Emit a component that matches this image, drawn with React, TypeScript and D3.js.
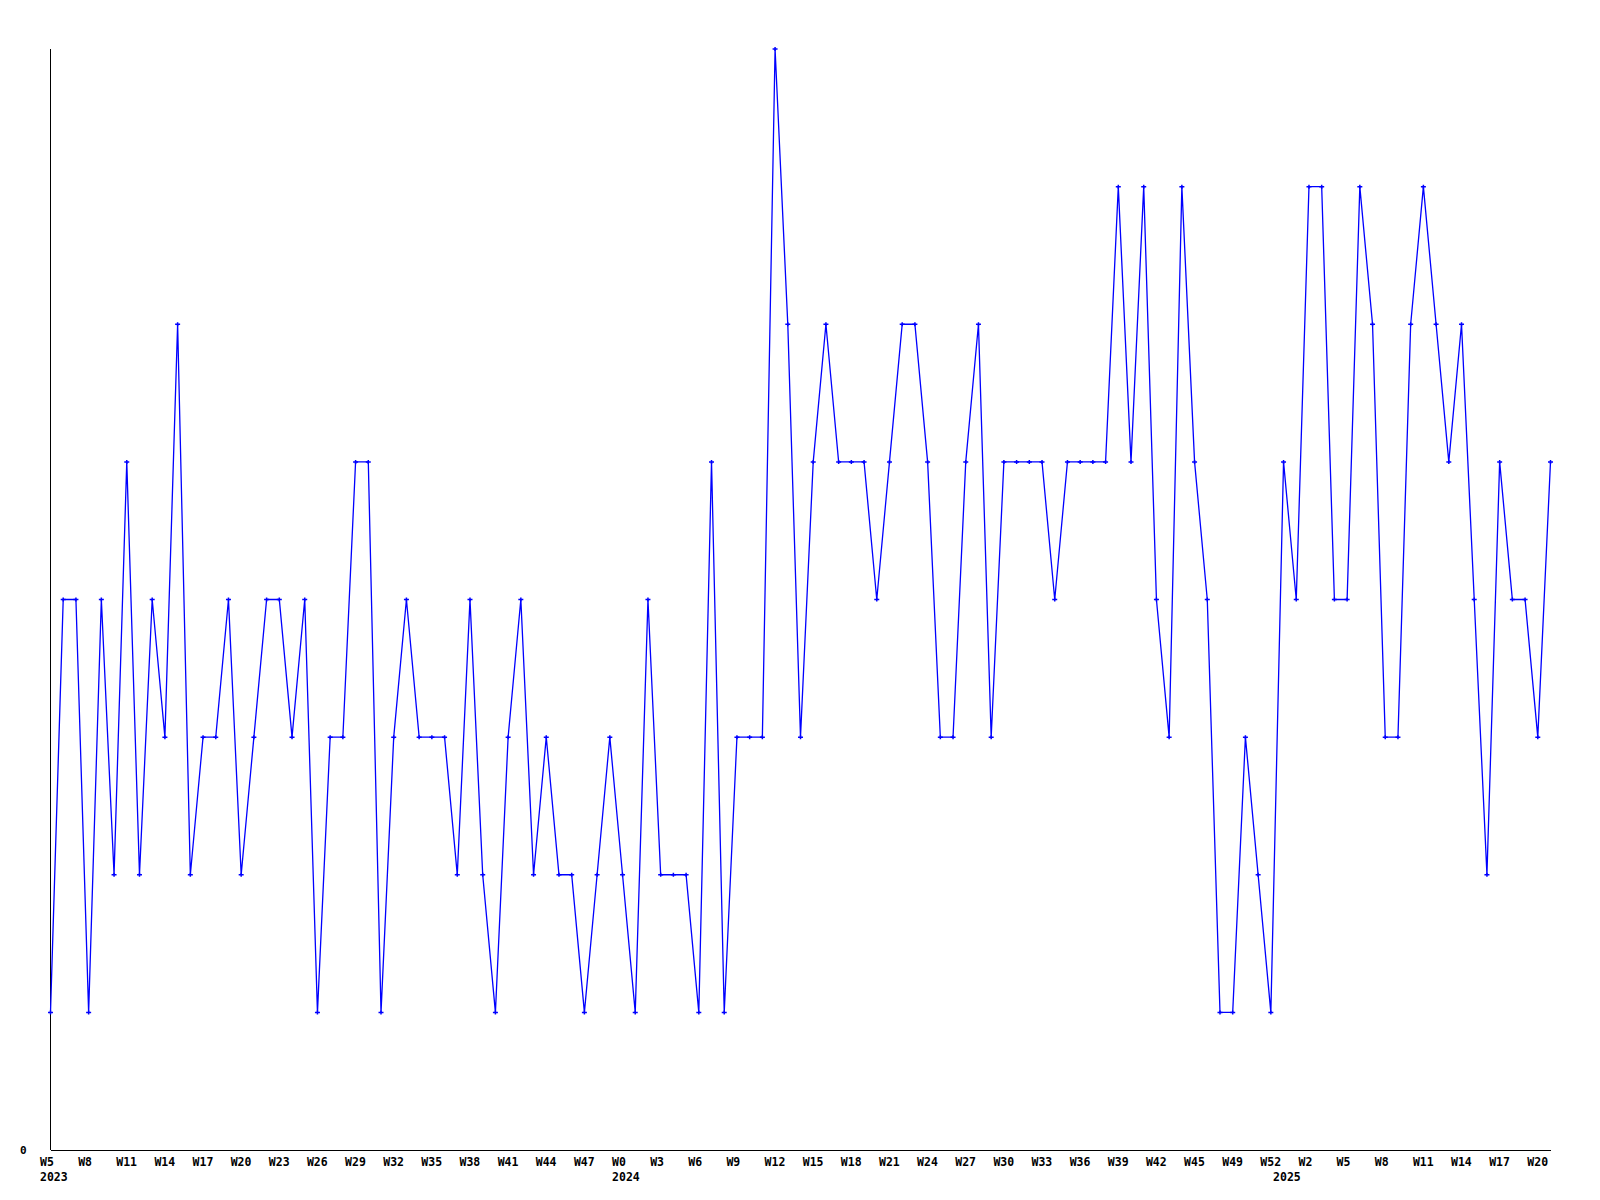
import React from "react";
import * as d3 from "d3";

const values: number[] = [
  1, 4, 4, 1, 4, 2, 5, 2, 4, 3, 6, 2, 3, 3, 4, 2, 3, 4, 4, 3,
  4, 1, 3, 3, 5, 5, 1, 3, 4, 3, 3, 3, 2, 4, 2, 1, 3, 4, 2, 3,
  2, 2, 1, 2, 3, 2, 1, 4, 2, 2, 2, 1, 5, 1, 3, 3, 3, 8, 6, 3,
  5, 6, 5, 5, 5, 4, 5, 6, 6, 5, 3, 3, 5, 6, 3, 5, 5, 5, 5, 4,
  5, 5, 5, 5, 7, 5, 7, 4, 3, 7, 5, 4, 1, 1, 3, 2, 1, 5, 4, 7,
  7, 4, 4, 7, 6, 3, 3, 6, 7, 6, 5, 6, 4, 2, 5, 4, 4, 3, 5,
];

const weekLabels: string[] = [
  "W5", "W8", "W11", "W14", "W17", "W20", "W23", "W26", "W29", "W32",
  "W35", "W38", "W41", "W44", "W47",
  "W0", "W3", "W6", "W9", "W12", "W15", "W18", "W21", "W24", "W27",
  "W30", "W33", "W36", "W39", "W42", "W45", "W49", "W52",
  "W2", "W5", "W8", "W11", "W14", "W17", "W20",
];
const weekLabelStep = 3;

const yearLabels: string[] = ["2023", "2024", "2025"];
const yearLabelIndex: number[] = [0, 45, 97];

const yTickValues: number[] = [0];

export default function App() {
  const W = 1600;
  const H = 1200;
  const left = 50.5;
  const right = 1550.5;
  const top = 49;
  const bottom = 1150;

  const x = d3.scaleLinear().domain([0, values.length - 1]).range([left, right]);
  const y = d3.scaleLinear().domain([0, 8]).range([bottom, top]);

  const line = d3
    .line<number>()
    .x((_, i) => x(i))
    .y((d) => y(d));

  const font = "'DejaVu Sans Mono', 'Liberation Mono', monospace";

  return (
    <svg
      width={W}
      height={H}
      style={{ position: "absolute", left: 0, top: 0, background: "#fff" }}
    >
      <rect x={0} y={0} width={W} height={H} fill="#fff" />
      {/* axes */}
      <line x1={left} y1={top} x2={left} y2={bottom} stroke="#000" strokeWidth={1} shapeRendering="crispEdges" />
      <line x1={left} y1={bottom + 0.5} x2={right + 0.5} y2={bottom + 0.5} stroke="#000" strokeWidth={1} shapeRendering="crispEdges" />

      {/* y tick labels */}
      {yTickValues.map((v) => (
        <text
          key={"y" + v}
          x={20}
          y={y(v) + 4}
          fontFamily={font}
          fontWeight="bold"
          fontSize={11}
          fill="#000"
        >
          {v}
        </text>
      ))}

      {/* x labels */}
      {weekLabels.map((lab, k) => (
        <text
          key={"w" + k}
          x={x(k * weekLabelStep) - 10.5}
          y={1166}
          fontFamily={font}
          fontWeight="bold"
          fontSize={11.5}
          fill="#000"
        >
          {lab}
        </text>
      ))}
      {yearLabels.map((lab, k) => (
        <text
          key={"yr" + k}
          x={x(yearLabelIndex[k]) - 10.5}
          y={1181}
          fontFamily={font}
          fontWeight="bold"
          fontSize={11.5}
          fill="#000"
        >
          {lab}
        </text>
      ))}

      {/* series */}
      <path d={line(values) || ""} fill="none" stroke="#0000ff" strokeWidth={1.3} />
      {values.map((v, i) => (
        <path
          key={"m" + i}
          d={`M${x(i) - 2.5},${y(v)}H${x(i) + 2.5}M${x(i)},${y(v) - 2}V${y(v) + 2}`}
          stroke="#0000ff"
          strokeWidth={1.5}
          fill="none"
        />
      ))}
    </svg>
  );
}
